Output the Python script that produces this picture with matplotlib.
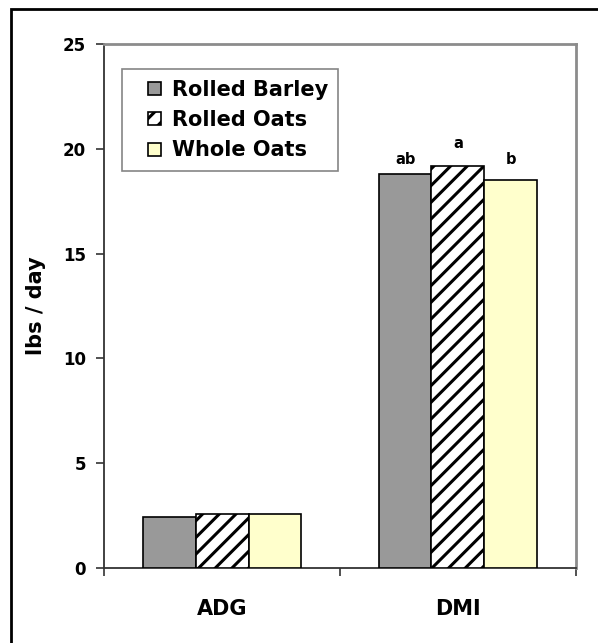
import matplotlib

matplotlib.use("Agg")
import matplotlib.pyplot as plt
import numpy as np
from matplotlib.legend_handler import HandlerPatch
from matplotlib.patches import Rectangle

# data
categories = ["ADG", "DMI"]
series_names = ["Rolled Barley", "Rolled Oats", "Whole Oats"]
rolled_barley = [2.43, 18.8]
rolled_oats = [2.6, 19.2]
whole_oats = [2.6, 18.5]
dmi_letters = ["ab", "a", "b"]
y_ticks = [0, 5, 10, 15, 20, 25]

plt.rcParams["font.family"] = ["DejaVu Sans"]
plt.rcParams["font.weight"] = "bold"
plt.rcParams["hatch.linewidth"] = 2.2

fig = plt.figure(figsize=(5.98, 6.43), dpi=100)
ax = fig.add_axes([104.3 / 598, 1 - 568 / 643, 471.4 / 598, 524 / 643])

styles = [
    dict(facecolor="#999999", hatch=None),
    dict(facecolor="white", hatch="//"),
    dict(facecolor="#FFFFCC", hatch=None),
]
values = [rolled_barley, rolled_oats, whole_oats]
width = 0.2236
centers = np.arange(len(categories)) + 0.5
handles = []
for k, (name, vals, st) in enumerate(zip(series_names, values, styles)):
    xs = centers + (k - 1) * width
    bars = ax.bar(xs, vals, width, facecolor=st["facecolor"], hatch=st["hatch"],
                  edgecolor="black", linewidth=1.2, label=name, zorder=3)
    handles.append(bars)
    # significance letters over the DMI bars
    ax.annotate(dmi_letters[k], (xs[1], vals[1]), xytext=(0, [7, 13, 11.5][k]),
                textcoords="offset points", ha="center", va="baseline",
                fontsize=10.5, fontweight="bold")

ax.set_xlim(0, 2)
ax.set_ylim(0, 25)
ax.set_yticks(y_ticks)
ax.set_xticks([0, 1, 2])
ax.set_xticklabels([])
ax.set_xticks(centers, minor=True)
ax.set_xticklabels(categories, minor=True, fontsize=15, fontweight="bold")
ax.tick_params(axis="x", which="minor", length=0, pad=22)
ax.tick_params(axis="x", which="major", length=6, width=1.2, color="#333333")
ax.tick_params(axis="y", length=6, width=1.2, color="#333333", labelsize=12, pad=7)
for lab in ax.get_yticklabels():
    lab.set_fontweight("bold")
ax.set_ylabel("lbs / day", fontsize=15, fontweight="bold", labelpad=12)

for side in ("left", "bottom"):
    ax.spines[side].set_color("#333333")
    ax.spines[side].set_linewidth(1.3)
for side in ("top", "right"):
    ax.spines[side].set_color("#8c8c8c")
    ax.spines[side].set_linewidth(2)


def square_right(legend, orig_handle, xdescent, ydescent, width, height, fontsize):
    s = fontsize * 0.63
    return Rectangle((width - xdescent - s, -ydescent + (height - s) / 2), s, s)


leg = ax.legend(handles=[h.patches[0] for h in handles], labels=series_names,
                loc="upper left", bbox_to_anchor=(0.0375, 0.952), borderaxespad=0,
                prop={"weight": "bold", "size": 15}, fancybox=False,
                handlelength=1.38, handleheight=0.63, handletextpad=0.5,
                borderpad=0.5, labelspacing=0.5,
                handler_map={Rectangle: HandlerPatch(patch_func=square_right)})
leg.get_frame().set_edgecolor("#666666")
leg.get_frame().set_linewidth(1.2)
leg.set_zorder(5)

# outer frame of the original figure (top and left edges visible)
fig.add_artist(Rectangle((10.5 / 598, -0.1), 1.2, 1.1 - 9.5 / 643, transform=fig.transFigure,
                         fill=False, edgecolor="black", linewidth=2))

fig.savefig("out.png", dpi=100)
